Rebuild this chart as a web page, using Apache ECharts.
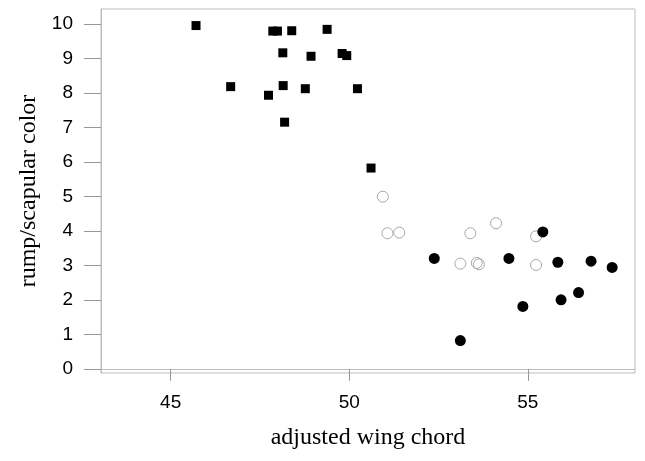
<!DOCTYPE html>
<html>
<head>
<meta charset="utf-8">
<script src="https://cdn.jsdelivr.net/npm/echarts@6/dist/echarts.min.js"></script>
<style>
html,body{margin:0;padding:0;background:#fff;}
#chart{width:645px;height:461px;}
</style>
</head>
<body>
<div id="chart"></div>
<script>
// Data: [adjusted wing chord, rump/scapular color]
const squaresX = [45.71, 47.86, 47.99, 48.39, 49.38, 48.14, 48.93, 49.80, 49.93, 46.68, 48.15, 48.77, 50.23, 47.74, 48.19, 50.61];
const squaresY = [9.95, 9.79, 9.79, 9.80, 9.84, 9.16, 9.06, 9.14, 9.08, 8.18, 8.21, 8.12, 8.12, 7.93, 7.15, 5.82];
const openX = [50.94, 51.07, 51.40, 53.39, 54.11, 55.23, 53.11, 53.57, 53.63, 55.23];
const openY = [4.99, 3.93, 3.95, 3.93, 4.22, 3.84, 3.05, 3.07, 3.03, 3.01];
const filledX = [52.38, 54.47, 55.42, 55.84, 56.77, 57.36, 54.86, 55.93, 56.42, 53.11];
const filledY = [3.20, 3.20, 3.97, 3.09, 3.12, 2.94, 1.81, 2.00, 2.21, 0.82];
const xTicks = [45, 50, 55];
const yTicks = [0, 1, 2, 3, 4, 5, 6, 7, 8, 9, 10];
const xTitle = 'adjusted wing chord';
const yTitle = 'rump/scapular color';

function pairs(xs, ys) { return xs.map((x, i) => [x, ys[i]]); }

const chart = echarts.init(document.getElementById('chart'), null, {renderer: 'canvas'});
const tickLabel = {fontFamily: 'Liberation Sans, Arial, sans-serif', fontSize: 19, color: '#000'};
chart.setOption({
  animation: false,
  backgroundColor: '#fff',
  grid: {left: 101, right: 10, top: 9, bottom: 88, show: true, borderColor: '#bdbdbd', borderWidth: 1, backgroundColor: 'transparent'},
  xAxis: {
    type: 'value', min: 43.05, max: 58.0,
    name: xTitle, nameLocation: 'middle', nameGap: 53,
    nameTextStyle: {fontFamily: 'Liberation Serif, Times New Roman, serif', fontSize: 24, color: '#000'},
    axisLine: {show: true, lineStyle: {color: '#bdbdbd'}},
    axisTick: {show: true, customValues: xTicks, length: 12, lineStyle: {color: '#999'}},
    axisLabel: Object.assign({customValues: xTicks, margin: 20, showMinLabel: true, showMaxLabel: true}, tickLabel),
    splitLine: {show: false}
  },
  yAxis: {
    type: 'value', min: -0.12, max: 10.43,
    name: yTitle, nameLocation: 'middle', nameGap: 60, nameRotate: 90,
    nameTextStyle: {fontFamily: 'Liberation Serif, Times New Roman, serif', fontSize: 24, color: '#000'},
    axisLine: {show: true, lineStyle: {color: '#bdbdbd'}},
    axisTick: {show: true, customValues: yTicks, length: 17, lineStyle: {color: '#999'}},
    axisLabel: Object.assign({customValues: yTicks, margin: 28}, tickLabel),
    splitLine: {show: false}
  },
  series: [
    {type: 'scatter', name: 'squares', data: pairs(squaresX, squaresY), symbol: 'rect', symbolSize: 9,
     itemStyle: {color: '#000', opacity: 1}, z: 3},
    {type: 'scatter', name: 'open', data: pairs(openX, openY), symbol: 'circle', symbolSize: 11,
     itemStyle: {color: 'rgba(255,255,255,0)', borderColor: '#a8a8a8', borderWidth: 1, opacity: 1}, z: 2},
    {type: 'scatter', name: 'filled', data: pairs(filledX, filledY), symbol: 'circle', symbolSize: 11,
     itemStyle: {color: '#000', opacity: 1}, z: 4}
  ]
});
</script>
</body>
</html>
